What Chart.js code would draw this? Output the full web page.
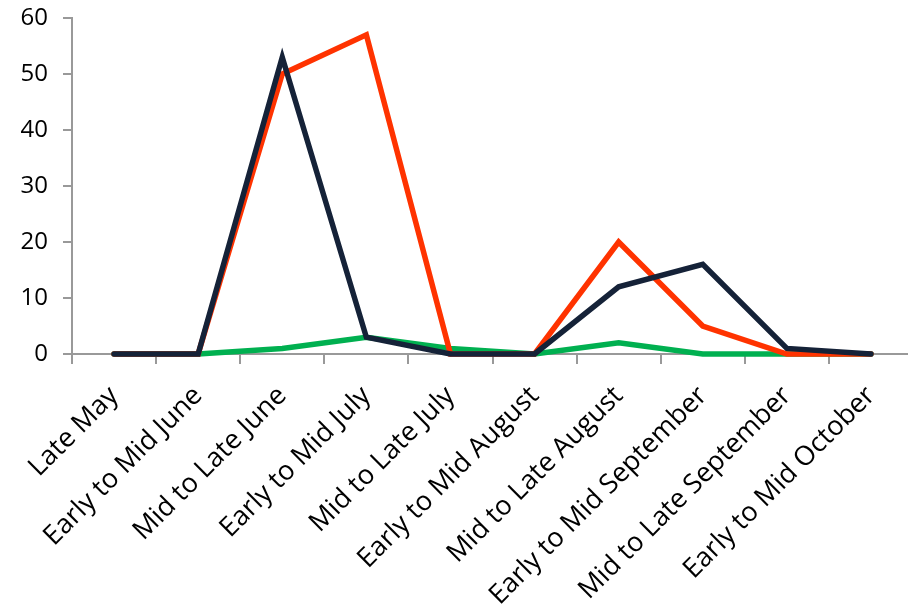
<!DOCTYPE html>
<html>
<head>
<meta charset="utf-8">
<script src="https://cdn.jsdelivr.net/npm/chart.js@4/dist/chart.umd.min.js"></script>
<style>
  html, body { margin: 0; padding: 0; background: #ffffff; overflow: hidden; }
  #wrap { width: 930px; height: 616px; }
</style>
</head>
<body>
<div id="wrap"><canvas id="c" width="930" height="616"></canvas></div>
<script>
const categories = [
  "Late May", "Early to Mid June", "Mid to Late June", "Early to Mid July",
  "Mid to Late July", "Early to Mid August", "Mid to Late August",
  "Early to Mid September", "Mid to Late September", "Early to Mid October"
];
const seriesDark  = [0, 0, 53, 3, 0, 0, 12, 16, 1, 0];
const seriesRed   = [0, 0, 50, 57, 0, 0, 20, 5, 0, 0];
const seriesGreen = [0, 0, 1, 3, 1, 0, 2, 0, 0, 0];
const yTicks = [0, 10, 20, 30, 40, 50, 60];

const axisGrey = '#999999';
const family = "'Open Sans', 'Liberation Sans', sans-serif";

new Chart(document.getElementById('c'), {
  type: 'line',
  data: {
    labels: categories,
    datasets: [
      { data: seriesDark,  borderColor: '#152238', borderWidth: 5.5, pointRadius: 0, tension: 0, borderCapStyle: 'round', clip: false },
      { data: seriesRed,   borderColor: '#ff3300', borderWidth: 5.5, pointRadius: 0, tension: 0, borderCapStyle: 'round', clip: false },
      { data: seriesGreen, borderColor: '#00b050', borderWidth: 5.5, pointRadius: 0, tension: 0, borderCapStyle: 'round', clip: false }
    ]
  },
  options: {
    responsive: false,
    animation: false,
    devicePixelRatio: 1,
    layout: { padding: { left: 0, right: 17, top: 18, bottom: 0 } },
    plugins: { legend: { display: false }, tooltip: { enabled: false } },
    scales: {
      x: {
        offset: true,
        grid: { offset: true, drawOnChartArea: false, drawTicks: true, tickLength: 10, color: axisGrey, lineWidth: 2 },
        border: { color: axisGrey, width: 2 },
        ticks: { color: '#000000', font: { family: family, size: 27 }, minRotation: 45, maxRotation: 45, padding: 16, autoSkip: false },
        afterFit: (s) => { s.height = 262; }
      },
      y: {
        min: 0, max: 60,
        afterBuildTicks: (s) => { s.ticks = yTicks.map(v => ({ value: v })); },
        grid: { drawOnChartArea: false, drawTicks: true, tickLength: 9, color: axisGrey, lineWidth: 2 },
        border: { color: axisGrey, width: 2 },
        ticks: { color: '#000000', font: { family: family, size: 24, lineHeight: 0.5 }, padding: 15 },
        afterFit: (s) => { s.width = 72; s.paddingTop = 0; s.paddingBottom = 0; }
      }
    }
  }
});
</script>
</body>
</html>
